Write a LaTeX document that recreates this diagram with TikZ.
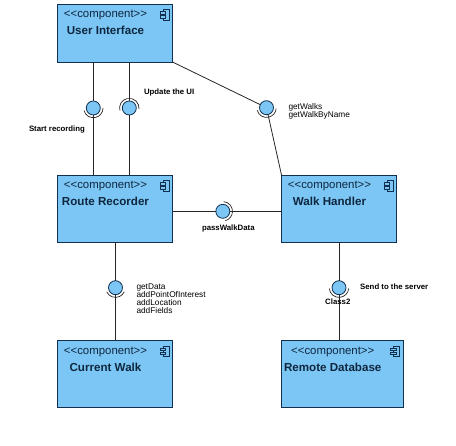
\documentclass[tikz,border=0pt]{standalone}
\usepackage{fontspec}
\setmainfont{Liberation Sans}
\usetikzlibrary{positioning}
\definecolor{compblue}{HTML}{7CC6F5}
\definecolor{compline}{HTML}{12304F}
\definecolor{wireline}{HTML}{262626}
\newcommand{\comptitle}[1]{{\fontsize{11.6}{16}\selectfont\bfseries #1}}
\tikzset{compicon/.pic={\draw[compline,line width=0.7pt,fill=compblue](-6,0) rectangle (0,-10.5);\draw[compline,line width=0.7pt,fill=compblue](-9,-2) rectangle (-3.5,-4.5);\draw[compline,line width=0.7pt,fill=compblue](-9,-6) rectangle (-3.5,-8.5);}}
\begin{document}
\begin{tikzpicture}[x=1pt,y=1pt,every node/.style={outer sep=0pt},comp/.style={rectangle,draw=compline,fill=compblue,line width=0.9pt,minimum width=115pt,minimum height=67pt,inner sep=0pt},compname/.style={align=center,inner sep=0pt,text=compline!80!black,font=\fontsize{11.4}{16}\selectfont},ball/.style={circle,draw=compline,fill=compblue,line width=0.8pt,minimum size=14pt,inner sep=0pt},wire/.style={draw=wireline,line width=0.8pt},socket/.style={draw=wireline,line width=0.7pt},lab/.style={inner sep=0pt,text=black,font=\fontsize{7.8}{7.8}\selectfont\bfseries},opslab/.style={align=left,inner sep=0pt,text=black,font=\fontsize{8.3}{8}\selectfont}]
\useasboundingbox (0,0) rectangle (456,-446);
\node[comp,minimum height=58pt] (ui) at (115,-33) {};
\node[comp,below=113pt of ui] (route) {};
\node[comp,right=109pt of route] (handler) {};
\node[comp,below=98.5pt of route] (current) {};
\node[comp,minimum width=121.5pt,below=98.5pt of handler.south west,anchor=north west] (remote) {};
\node[compname,below=6.5pt of ui.north,xshift=-9.5pt] (uiname) {<{}<component>{}>\\[1pt]\comptitle{User Interface}};
\node[compname,below=6.5pt of route.north,xshift=-9.5pt] (routename) {<{}<component>{}>\\[1pt]\comptitle{Route Recorder}};
\node[compname,below=6.5pt of handler.north,xshift=-9.5pt] (handlername) {<{}<component>{}>\\[1pt]\comptitle{Walk Handler}};
\node[compname,below=6.5pt of current.north,xshift=-9.5pt] (currentname) {<{}<component>{}>\\[1pt]\comptitle{Current Walk}};
\node[compname,below=6.5pt of remote.north,xshift=-9.5pt] (remotename) {<{}<component>{}>\\[1pt]\comptitle{Remote Database}};
\pic at ([shift={(-3.5,-5.5)}]ui.north east) {compicon};
\pic at ([shift={(-3.5,-5.5)}]route.north east) {compicon};
\pic at ([shift={(-3.5,-5.5)}]handler.north east) {compicon};
\pic at ([shift={(-3.5,-5.5)}]current.north east) {compicon};
\pic at ([shift={(-3.5,-5.5)}]remote.north east) {compicon};
\node[ball,below=39pt of ui.south,xshift=-21.7pt] (startrec) {};
\node[ball,below=39pt of ui.south,xshift=14.3pt] (updateui) {};
\node[ball,above=60.3pt of handler.north west,xshift=-15pt] (getwalks) {};
\node[ball,right=43.3pt of route.east,yshift=-2.8pt] (passdata) {};
\node[ball,below=38.7pt of route.south,xshift=0.5pt] (getdata) {};
\node[ball,below=38.7pt of handler.south] (sendserver) {};
\draw[wire] (startrec) -- (startrec |- ui.south);\draw[wire] (startrec) -- (startrec |- route.north);\draw[wire] (updateui) -- (updateui |- ui.south);\draw[wire] (updateui) -- (updateui |- route.north);\draw[wire] (getwalks) -- (ui.south east);\draw[wire] (getwalks) -- (handler.north west);\draw[wire] (passdata) -- (passdata -| route.east);\draw[wire] (passdata) -- (passdata -| handler.west);\draw[wire] (getdata) -- (getdata |- route.south);\draw[wire] (getdata) -- (getdata |- current.north);\draw[wire] (sendserver) -- (sendserver |- handler.south);\draw[wire] (sendserver) -- (sendserver |- remote.north);
\draw[socket] (startrec.center) ++(195:9.7) arc[start angle=195,end angle=360,radius=9.7];
\draw[socket] (updateui.center) ++(195:9.7) arc[start angle=195,end angle=-5,radius=9.7];
\draw[socket] (getwalks.center) ++(195:9.7) arc[start angle=195,end angle=355,radius=9.7];
\draw[socket] (passdata.center) ++(85:9.7) arc[start angle=85,end angle=-75,radius=9.7];
\draw[socket] (getdata.center) ++(205:9.7) arc[start angle=205,end angle=335,radius=9.7];
\draw[socket] (sendserver.center) ++(185:9.7) arc[start angle=185,end angle=355,radius=9.7];
\node[lab,below left=13pt and 3.4pt of startrec.south west] (startlab) {Start recording};
\node[lab,right=7.7pt of updateui.east,yshift=15.5pt] (updatelab) {Update the UI};
\node[opslab,right=15pt of getwalks.east,yshift=-4pt] (walkslab) {getWalks\\getWalkByName};
\node[lab,below=6.5pt of passdata.south,xshift=5.5pt] (passlab) {passWalkData};
\node[opslab,right=14pt of getdata.east,yshift=-10.5pt] (datalab) {getData\\addPointOfInterest\\addLocation\\addFields};
\node[lab,right=14.2pt of sendserver.east,yshift=1pt] (sendlab) {Send to the server};
\node[lab,below=4.5pt of sendserver.south,xshift=-1.2pt] (classlab) {Class2};
\end{tikzpicture}
\end{document}
